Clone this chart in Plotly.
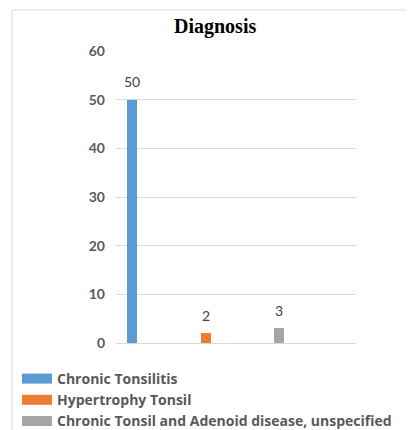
import plotly.graph_objects as go

categories = ["Chronic Tonsilitis", "Hypertrophy Tonsil", "Chronic Tonsil and Adenoid disease, unspecified"]
values = [50, 2, 3]
colors = ["#5B9BD5", "#ED7D31", "#A5A5A5"]
positions = [0, 1, 2]
y_ticks = [0, 10, 20, 30, 40, 50, 60]

# page body has an 8px margin; work in reference-page pixel coordinates
OFF = 8
W, H = 414 - OFF, 430 - OFF
PL, PR, PT, PB = 116, 356, 51, 343  # plot area in page pixels
pw, ph = PR - PL, PB - PT

def px_x(p):
    return (p - PL) / pw

def px_y(p):
    return (PB - p) / ph

fig = go.Figure()
for cat, v, c, x in zip(categories, values, colors, positions):
    fig.add_trace(go.Bar(x=[x], y=[v], marker=dict(color=c, line=dict(width=0)),
                         width=0.136, showlegend=False, name=cat))
for cat, c in zip(categories, colors):
    fig.add_trace(go.Scatter(x=[None], y=[None], mode="lines", name=cat,
                             line=dict(color=c, width=10), showlegend=True))

for v, x in zip(values, positions):
    fig.add_annotation(x=x, y=v, text=str(v), showarrow=False, yshift=18,
                       yanchor="middle", font=dict(family="Lato", size=14, color="#404040"))

fig.add_annotation(xref="paper", yref="paper", x=px_x(215), y=px_y(27), text="<b>Diagnosis</b>",
                   showarrow=False, xanchor="center", yanchor="middle",
                   font=dict(family="Liberation Serif", size=20, color="#000000"))

fig.add_shape(type="rect", xref="paper", yref="paper", x0=px_x(12), x1=px_x(430),
              y0=px_y(10), y1=px_y(450), line=dict(color="#D9D9D9", width=1), layer="below")

fig.update_layout(
    width=W, height=H,
    margin=dict(l=PL - OFF, r=W - (PR - OFF), t=PT - OFF, b=H - (PB - OFF), autoexpand=False),
    paper_bgcolor="white", plot_bgcolor="white",
    bargap=0,
    xaxis=dict(range=[-0.218, 3.048], showticklabels=False, showgrid=False, zeroline=False,
               showline=False, ticks=""),
    yaxis=dict(range=[0, 60], tickvals=y_ticks, showgrid=True, gridcolor="#D9D9D9", gridwidth=1,
               zeroline=True, zerolinecolor="#D9D9D9", zerolinewidth=1, showline=False, ticks="",
               ticklabelstandoff=10,
               tickfont=dict(family="Lato", size=14, color="#595959", weight="bold")),
    legend=dict(x=px_x(17), y=px_y(363), xanchor="left", yanchor="top",
                font=dict(family="Open Sans", size=14, color="#595959", weight="bold"),
                bgcolor="rgba(0,0,0,0)", tracegroupgap=0, itemwidth=30),
    showlegend=True,
)

fig.write_html("out.html")
